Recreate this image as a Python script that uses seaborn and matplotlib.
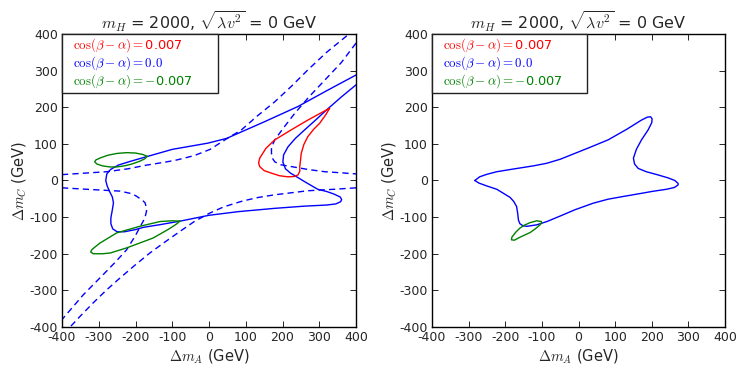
import matplotlib
matplotlib.use("Agg")
import matplotlib.pyplot as plt
import seaborn as sns
import pandas as pd
from matplotlib.lines import Line2D

# ---------------- data ----------------
# Left panel: solid blue contour (cos(b-a)=0.0)
L_blue_x = [400, 320, 242, 150, 48, -3, -100, -170, -215, -247, -268, -278, -281, -277, -271,
            -263, -260, -263, -267, -267, -262, -250, -230, -200, -179, -130, -79, 0, 80, 179,
            260, 320, 345, 358, 361, 357, 340, 320, 296, 265, 242, 222, 208, 201, 203, 215,
            235, 260, 290, 319, 360, 400]
L_blue_y = [288, 245, 202, 160, 115, 102, 85, 65, 52, 42, 30, 18, 0, -15, -29,
            -45, -61, -80, -102, -118, -132, -140, -140, -134, -128, -120, -111, -95, -85, -76,
            -70, -67, -64, -58, -52, -45, -37, -30, -24, -6, 8, 20, 32, 50, 70, 92,
            115, 138, 165, 192, 228, 261]

# Left panel: dashed blue contours
L_d1_x = [-400, -340, -278, -220, -170, -120, -88, -40, 3, 45, 88, 130, 179, 225, 269, 320, 381]
L_d1_y = [16, 20, 24, 32, 42, 50, 56, 68, 85, 112, 138, 175, 215, 258, 302, 350, 400]
L_d2_x = [400, 360, 315, 270, 233, 200, 179, 170, 170, 173, 179, 195, 224, 270, 315, 360, 400]
L_d2_y = [375, 322, 274, 226, 183, 140, 111, 90, 74, 60, 51, 43, 38, 30, 24, 21, 18]
L_d3_x = [400, 340, 269, 179, 130, 88, 40, 0, -40, -79, -120, -161, -200, -242, -280, -315, -350, -378]
L_d3_y = [-20, -24, -28, -39, -47, -57, -72, -90, -112, -139, -168, -198, -230, -266, -300, -334, -370, -400]
L_d4_x = [-400, -315, -242, -210, -197, -180, -174, -170, -170, -174, -179, -200, -224, -255, -288, -342, -396, -400]
L_d4_y = [-20, -25, -29, -36, -43, -55, -61, -75, -84, -100, -111, -150, -189, -223, -257, -312, -375, -380]

# Left panel: red contour (cos(b-a)=0.007)
L_red_x = [328, 300, 269, 225, 179, 155, 138, 135, 138, 150, 170, 192, 215, 232, 242, 247, 247,
           249, 251, 258, 269, 285, 301, 318, 328]
L_red_y = [197, 182, 165, 139, 111, 88, 61, 48, 38, 27, 20, 13, 10, 11, 15, 25, 38,
           55, 74, 98, 120, 140, 156, 180, 197]

# Left panel: green contours (cos(b-a)=-0.007)
L_g1_x = [-168, -180, -200, -224, -250, -275, -295, -308, -311, -305, -290, -270, -251, -230,
          -210, -190, -175, -168]
L_g1_y = [66, 71, 75, 76, 74, 69, 62, 56, 51, 45, 40, 37, 37, 40, 45, 52, 59, 66]
L_g2_x = [-79, -100, -133, -188, -251, -297, -318, -322, -315, -290, -269, -224, -152, -110, -90, -79]
L_g2_y = [-111, -110, -112, -125, -143, -171, -188, -195, -200, -200, -198, -184, -157, -133, -120, -111]

# Right panel: blue contour
R_blue_x = [-283, -270, -250, -223, -180, -123, -87, -50, -10, 30, 81, 132, 172, 188, 197, 201,
            200, 190, 172, 158, 150, 153, 163, 185, 218, 245, 263, 272, 272, 262, 240, 200,
            172, 120, 81, 40, -10, -50, -86, -114, -140, -151, -160, -164, -166, -169, -177,
            -187, -205, -223, -250, -272, -283]
R_blue_y = [0, 10, 17, 24, 31, 40, 47, 58, 74, 90, 111, 140, 165, 173, 174, 168,
            158, 138, 111, 85, 61, 45, 33, 24, 15, 7, 0, -8, -12, -19, -24, -30,
            -35, -44, -51, -62, -80, -97, -112, -121, -125, -124, -118, -108, -90, -71, -57,
            -46, -35, -24, -15, -7, 0]
# Right panel: green contour
R_g_x = [-102, -114, -132, -148, -160, -172, -182, -183, -175, -160, -145, -132, -118, -105, -100, -102]
R_g_y = [-112, -110, -115, -122, -130, -142, -155, -162, -163, -155, -148, -142, -132, -121, -115, -112]

legend_labels = [r"$\cos(\beta-\alpha)=$0.007", r"$\cos(\beta-\alpha)=0.0$",
                 r"$\cos(\beta-\alpha)=-$0.007"]
legend_colors = ["red", "blue", "green"]
ticks = [-400, -300, -200, -100, 0, 100, 200, 300, 400]
title = r"$m_H$ = 2000, $\sqrt{\lambda v^2}$ = 0 GeV"

# ---------------- style ----------------
sns.set_style("ticks")
plt.rcParams.update({
    "font.family": ["DejaVu Sans"],
    "mathtext.fontset": "cm",
    "axes.unicode_minus": False,
    "xtick.direction": "in", "ytick.direction": "in",
    "xtick.top": True, "ytick.right": True,
    "axes.edgecolor": "black", "axes.linewidth": 1.0,
})

fig = plt.figure(figsize=(7.47, 3.74), dpi=100)
axL = fig.add_axes([62/747, 47/374, 294/747, 293/374])
axR = fig.add_axes([432/747, 47/374, 293/747, 293/374])

DASH = (0, (4.5, 3))


def curve(ax, xs, ys, color, ls="-"):
    df = pd.DataFrame({"x": xs, "y": ys})
    sns.lineplot(data=df, x="x", y="y", sort=False, estimator=None, color=color,
                 linestyle=ls, linewidth=1.0, ax=ax)


curve(axL, L_d1_x, L_d1_y, "blue", DASH)
curve(axL, L_d2_x, L_d2_y, "blue", DASH)
curve(axL, L_d3_x, L_d3_y, "blue", DASH)
curve(axL, L_d4_x, L_d4_y, "blue", DASH)
curve(axL, L_blue_x, L_blue_y, "blue")
curve(axL, L_red_x, L_red_y, "red")
curve(axL, L_g1_x, L_g1_y, "green")
curve(axL, L_g2_x, L_g2_y, "green")

curve(axR, R_blue_x, R_blue_y, "blue")
curve(axR, R_g_x, R_g_y, "green")

for ax in (axL, axR):
    ax.set_xlim(-400, 400)
    ax.set_ylim(-400, 400)
    ax.set_xticks(ticks)
    ax.set_yticks(ticks)
    ax.tick_params(labelsize=9, length=4, width=0.6, color="black", pad=3)
    ax.set_xlabel(r"$\Delta m_A$ (GeV)", fontsize=10.5, labelpad=2)
    ax.set_ylabel(r"$\Delta m_C$ (GeV)", fontsize=10.5, labelpad=1)
    ax.set_title(title, fontsize=11.5, pad=3)
    handles = [Line2D([], [], linestyle="none") for _ in legend_labels]
    leg = ax.legend(handles, legend_labels, loc="upper left",
                    bbox_to_anchor=(0, 0.819, 0.53, 0.181), mode="expand",
                    borderaxespad=0, handlelength=0.45, handletextpad=0.2,
                    fontsize=9.3, labelspacing=0.0, borderpad=0.2,
                    fancybox=False, framealpha=1, edgecolor="#222222")
    for t, c in zip(leg.get_texts(), legend_colors):
        t.set_color(c)
    leg.get_frame().set_linewidth(1.0)

fig.savefig("out.png", dpi=100)
